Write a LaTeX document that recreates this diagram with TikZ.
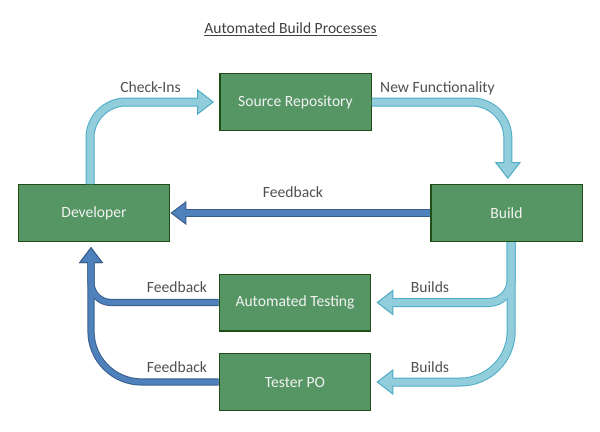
\documentclass[tikz,border=0pt]{standalone}
\usepackage{fontspec}
\setmainfont{Carlito}
\usepackage{tikz}
\usetikzlibrary{arrows.meta}
\tikzset{>=latex}
\definecolor{boxgreen}{RGB}{85,150,100}
\definecolor{boxline}{RGB}{30,78,22}
\definecolor{aquafill}{RGB}{146,205,220}
\definecolor{aquaedge}{RGB}{75,172,198}
\definecolor{bluefill}{RGB}{79,129,189}
\definecolor{blueedge}{RGB}{56,93,138}
\definecolor{textgray}{RGB}{80,80,80}
\tikzset{
  box/.style={draw=boxline, fill=boxgreen, line width=1.1pt, minimum width=113.6pt, minimum height=42.4pt, text=white!95!black, font=\fontsize{11.7}{14}\selectfont},
  flowtext/.style={text=textgray, font=\fontsize{11.7}{14}\selectfont, anchor=base},
  % wide arrows: border pass first, then the lighter inside
  lightedge/.style={draw=aquaedge, line width=6.75pt, shorten >=#1, -{Triangle[width=19.5pt, length=12.75pt, fill=aquafill, line width=0.75pt]}},
  lightedge/.default=3.75pt,
  lightfill/.style={draw=aquafill, line width=5.25pt, shorten >=#1+6pt},
  lightfill/.default=3.75pt,
  darkedge/.style={draw=blueedge, line width=5.4pt, shorten >=#1, -{Triangle[width=18pt, length=12pt, fill=bluefill, line width=0.75pt]}},
  darkedge/.default=3.75pt,
  darkfill/.style={draw=bluefill, line width=3.9pt, shorten >=#1+6pt},
  darkfill/.default=3.75pt,
}
\begin{document}
\begin{tikzpicture}[x=0.75pt, y=-0.75pt]
    \useasboundingbox (0,0) rectangle (600,432);
    \node[flowtext, text=black!75] (title) at (290.5,33) {\underline{Automated Build Processes}};

    % boxes
    \node[box] (dev) at (94,213) {Developer};
    \node[box] (src) at (295.5,102) {Source Repository};
    \node[box] (build) at (506.5,213) {Build};
    \node[box] (test) at (295,302.5) {Automated Testing};
    \node[box] (po) at (295,382) {Tester PO};

    % builds going round to the right
    \foreach \layer in {lightedge,lightfill} {
      \draw[\layer, rounded corners=27pt] ([xshift=-3pt]dev.north) |- (src.west);
      \draw[\layer, rounded corners=27pt] (src.east) -| ([xshift=1pt]build.north);
      \draw[\layer, rounded corners=17pt] ([xshift=3.5pt]build.south) |- (test.east);
      \draw[\layer, rounded corners=38pt] ([xshift=3.5pt]build.south) |- (po.east);
    }
    % feedback back to the developer
    \draw[darkedge=0pt] (build.west) -- (dev.east);
    \draw[darkfill=0pt] (build.west) -- (dev.east);
    \foreach \layer in {darkedge,darkfill} {
      \draw[\layer, rounded corners=15pt] (test.west) -| ([xshift=-2.25pt]dev.south);
      \draw[\layer, rounded corners=38pt] (po.west) -| ([xshift=-2.25pt]dev.south);
    }

    % labels
    \node[flowtext] (checkins) at (150.5,92) {Check-Ins};
    \node[flowtext] (newfunc) at (437.5,92) {New Functionality};
    \node[flowtext] (fbtop) at (293,197) {Feedback};
    \node[flowtext] (fbtest) at (177,292) {Feedback};
    \node[flowtext] (fbpo) at (177,372) {Feedback};
    \node[flowtext] (bltest) at (430,292) {Builds};
    \node[flowtext] (blpo) at (430,372) {Builds};
\end{tikzpicture}
\end{document}
